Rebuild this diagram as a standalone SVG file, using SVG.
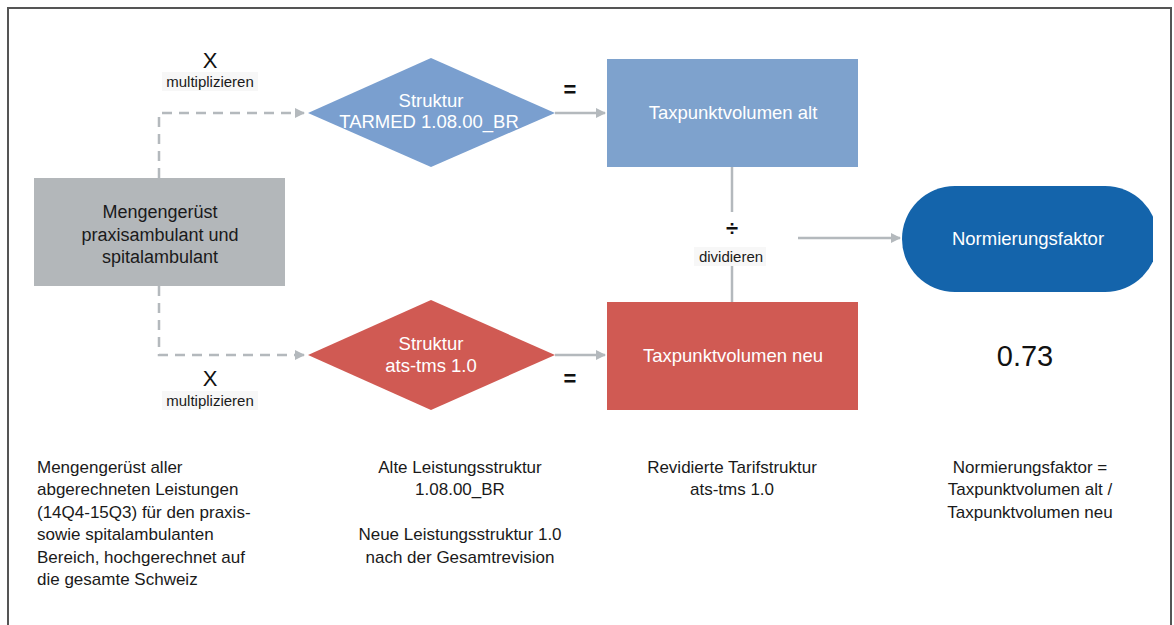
<svg xmlns="http://www.w3.org/2000/svg" width="1174" height="625" viewBox="0 0 1174 625">
<style>
  text { font-family: "Liberation Sans", Arial, sans-serif; }
  .t16 { font-size: 17px; fill: #1a1a1a; }
  .nd { font-size: 18px; fill: #1a1a1a; }
  .w16 { font-size: 18.5px; fill: #ffffff; }
  .lbl { font-size: 15px; fill: #1a1a1a; }
  .op { font-size: 22px; fill: #111; }
  .dash { fill: none; stroke: #b4b9bd; stroke-width: 2.5; stroke-dasharray: 10 7; }
  .solid { fill: none; stroke: #b4b9bd; stroke-width: 2.5; }
  .lblbg { fill: #f7f7f7; }
</style>
<defs>
  <marker id="arr" markerWidth="10" markerHeight="10" refX="9" refY="5" orient="auto" markerUnits="userSpaceOnUse">
    <path d="M0,0 L10,5 L0,10 Z" fill="#b4b9bd"/>
  </marker>
  <clipPath id="pillclip"><rect x="0" y="0" width="1153" height="625"/></clipPath>
</defs>
<rect x="0" y="0" width="1174" height="625" fill="#ffffff"/>
<path d="M8,640 L8,8 L1171,8 L1171,640" fill="none" stroke="#555" stroke-width="2"/>

<g id="connectors">
  <path class="dash" d="M159,178 L159,113 L304,113" marker-end="url(#arr)"/>
  <path class="dash" d="M159,286 L159,355 L304,355" marker-end="url(#arr)"/>
  <path class="solid" d="M555,113 L605,113" marker-end="url(#arr)"/>
  <path class="solid" d="M555,355 L605,355" marker-end="url(#arr)"/>
  <path class="solid" d="M732,167 L732,212"/>
  <path class="solid" d="M732,266 L732,302"/>
  <path class="solid" d="M798,238 L900,238" marker-end="url(#arr)"/>
  <text class="op" x="210" y="68" text-anchor="middle">X</text>
  <rect class="lblbg" x="162" y="72" width="96" height="19"/>
  <text class="lbl" x="210" y="87" text-anchor="middle">multiplizieren</text>
  <text class="op" x="210" y="386" text-anchor="middle">X</text>
  <rect class="lblbg" x="162" y="391" width="96" height="19"/>
  <text class="lbl" x="210" y="406" text-anchor="middle">multiplizieren</text>
  <text class="op" x="570" y="97" text-anchor="middle" font-weight="bold">=</text>
  <text class="op" x="570" y="386" text-anchor="middle" font-weight="bold">=</text>
  <text class="op" x="732" y="236" text-anchor="middle" font-size="26" font-weight="bold">÷</text>
  <rect class="lblbg" x="694" y="247" width="72" height="19"/>
  <text class="lbl" x="731" y="262" text-anchor="middle">dividieren</text>
</g>

<g id="node-mengengeruest">
  <rect x="34" y="178" width="251" height="108" fill="#b3b7ba"/>
  <text class="nd" x="160" y="218" text-anchor="middle">Mengengerüst</text>
  <text class="nd" x="160" y="241" text-anchor="middle">praxisambulant und</text>
  <text class="nd" x="160" y="263" text-anchor="middle">spitalambulant</text>
</g>

<g id="node-tarmed">
  <polygon points="308,113 431,58 555,113 431,167" fill="#7a9fcf"/>
  <text class="w16" x="431" y="107" text-anchor="middle">Struktur</text>
  <text class="w16" x="429" y="128" text-anchor="middle">TARMED 1.08.00_BR</text>
</g>

<g id="node-atstms">
  <polygon points="308,355 431,300 555,355 431,410" fill="#d05a53"/>
  <text class="w16" x="431" y="350" text-anchor="middle">Struktur</text>
  <text class="w16" x="431" y="372" text-anchor="middle">ats-tms 1.0</text>
</g>

<g id="node-tpv-alt">
  <rect x="607" y="59" width="251" height="108" fill="#7ea2cd"/>
  <text class="w16" x="733" y="119" text-anchor="middle">Taxpunktvolumen alt</text>
</g>

<g id="node-tpv-neu">
  <rect x="607" y="302" width="251" height="108" fill="#d05a53"/>
  <text class="w16" x="733" y="362" text-anchor="middle">Taxpunktvolumen neu</text>
</g>

<g id="node-normierungsfaktor">
  <rect x="902" y="186" width="256" height="106" rx="53" ry="53" fill="#1464ab" clip-path="url(#pillclip)"/>
  <text class="w16" x="1028" y="245" text-anchor="middle">Normierungsfaktor</text>
</g>

<g id="value">
  <text x="1025" y="366" text-anchor="middle" font-size="29" fill="#111">0.73</text>
</g>

<g id="notes">
  <text class="t16" x="37" y="473">Mengengerüst aller</text>
  <text class="t16" x="37" y="495">abgerechneten Leistungen</text>
  <text class="t16" x="37" y="518">(14Q4-15Q3) für den praxis-</text>
  <text class="t16" x="37" y="540">sowie spitalambulanten</text>
  <text class="t16" x="37" y="563">Bereich, hochgerechnet auf</text>
  <text class="t16" x="37" y="585">die gesamte Schweiz</text>

  <text class="t16" x="460" y="473" text-anchor="middle">Alte Leistungsstruktur</text>
  <text class="t16" x="460" y="495" text-anchor="middle">1.08.00_BR</text>
  <text class="t16" x="460" y="540" text-anchor="middle">Neue Leistungsstruktur 1.0</text>
  <text class="t16" x="460" y="563" text-anchor="middle">nach der Gesamtrevision</text>

  <text class="t16" x="732" y="473" text-anchor="middle">Revidierte Tarifstruktur</text>
  <text class="t16" x="732" y="495" text-anchor="middle">ats-tms 1.0</text>

  <text class="t16" x="1030" y="473" text-anchor="middle">Normierungsfaktor =</text>
  <text class="t16" x="1030" y="495" text-anchor="middle">Taxpunktvolumen alt /</text>
  <text class="t16" x="1030" y="518" text-anchor="middle">Taxpunktvolumen neu</text>
</g>
</svg>
